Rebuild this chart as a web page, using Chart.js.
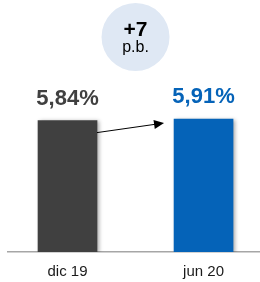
<!DOCTYPE html>
<html>
<head>
<meta charset="utf-8">
<script src="https://cdn.jsdelivr.net/npm/chart.js@4"></script>
<style>
    html, body { margin: 0; padding: 0; background: #fff; }
    #wrap { width: 260px; height: 282px; position: relative; }
</style>
</head>
<body>
<div id="wrap"><canvas id="chart"></canvas></div>
<script>
// data
const categories = ["dic 19", "jun 20"];
const values = [5.84, 5.91];
const barColors = ["#404040", "#0563b8"];
const labelColors = ["#404040", "#0563b8"];

const fmt = (v) => v.toFixed(2).replace(".", ",") + "%";

// value labels above the bars + arrow + delta bubble
const overlay = {
    id: "overlay",
    beforeDatasetsDraw(chart) {
        const ctx = chart.ctx;
        ctx.save();
        ctx.shadowColor = "rgba(0,0,0,0.35)";
        ctx.shadowBlur = 4;
        ctx.shadowOffsetX = 2;
        ctx.shadowOffsetY = 1;
    },
    afterDatasetsDraw(chart) {
        const ctx = chart.ctx;
        ctx.restore();
        const bars = chart.getDatasetMeta(0).data;

        ctx.save();
        ctx.font = "bold 22px 'Liberation Sans', Arial, sans-serif";
        ctx.textAlign = "center";
        ctx.textBaseline = "alphabetic";
        bars.forEach((b, i) => {
            ctx.fillStyle = labelColors[i];
            ctx.fillText(fmt(values[i]), b.x, b.y - 16);
        });

        // arrow from first bar to second
        const a = bars[0], c = bars[1];
        const x0 = a.x + a.width / 2, y0 = a.y + 12;
        const x1 = c.x - c.width / 2 - 10, y1 = c.y + 4;
        const ang = Math.atan2(y1 - y0, x1 - x0);
        ctx.strokeStyle = "#000";
        ctx.lineWidth = 1;
        ctx.beginPath();
        ctx.moveTo(x0, y0);
        ctx.lineTo(x1 - 8 * Math.cos(ang), y1 - 8 * Math.sin(ang));
        ctx.stroke();
        ctx.fillStyle = "#000";
        ctx.beginPath();
        ctx.moveTo(x1, y1);
        ctx.lineTo(x1 - 10 * Math.cos(ang) + 4.5 * Math.sin(ang), y1 - 10 * Math.sin(ang) - 4.5 * Math.cos(ang));
        ctx.lineTo(x1 - 10 * Math.cos(ang) - 4.5 * Math.sin(ang), y1 - 10 * Math.sin(ang) + 4.5 * Math.cos(ang));
        ctx.closePath();
        ctx.fill();

        // delta bubble
        const delta = Math.round((values[1] - values[0]) * 100);
        const cx = (a.x + c.x) / 2, cy = 37;
        ctx.fillStyle = "#dfe8f4";
        ctx.beginPath();
        ctx.arc(cx, cy, 34, 0, Math.PI * 2);
        ctx.fill();
        ctx.fillStyle = "#000";
        ctx.font = "bold 21px 'Liberation Sans', Arial, sans-serif";
        ctx.fillText((delta >= 0 ? "+" : "") + delta, cx, 36);
        ctx.font = "16px 'Liberation Sans', Arial, sans-serif";
        ctx.fillText("p.b.", cx, 52);
        ctx.restore();
    }
};

new Chart(document.getElementById("chart"), {
    type: "bar",
    data: {
        datasets: [{
            data: values.map((v, i) => ({ x: i, y: v })),
            backgroundColor: barColors,
            borderWidth: 0,
            barThickness: 59
        }]
    },
    options: {
        responsive: true,
        maintainAspectRatio: false,
        animation: false,
        layout: { padding: { left: 8, right: 0, top: 0, bottom: 0 } },
        plugins: { legend: { display: false }, tooltip: { enabled: false } },
        scales: {
            x: {
                type: "linear",
                offset: false,
                bounds: "data",
                min: -0.4375,
                max: 1.415,
                grid: { display: false, drawTicks: false },
                border: { display: true, color: "#a6a6a6", width: 1.5 },
                afterBuildTicks: (axis) => { axis.ticks = categories.map((_, i) => ({ value: i })); },
                afterFit: (axis) => { axis.height = 30; },
                ticks: {
                    padding: 11,
                    color: "#1a1a1a",
                    autoSkip: false,
                    maxRotation: 0,
                    font: { family: "'Liberation Sans', Arial, sans-serif", size: 15 },
                    callback: (v) => categories[v]
                }
            },
            y: { display: false, min: 0, max: 11.2 }
        }
    },
    plugins: [overlay]
});
</script>
</body>
</html>
